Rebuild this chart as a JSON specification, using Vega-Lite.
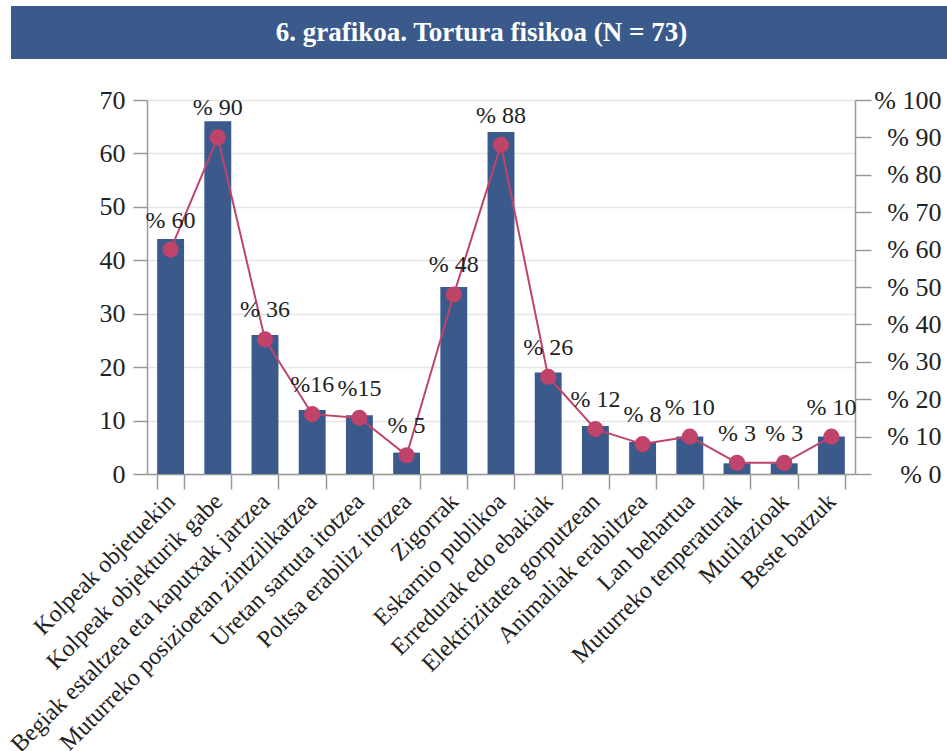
{
  "$schema": "https://vega.github.io/schema/vega-lite/v6.json",
  "padding": {"left": 6, "top": 6, "right": 0, "bottom": 0},
  "background": "white",
  "spacing": 28,
  "config": {"font": "Liberation Serif", "view": {"stroke": null}},
  "vconcat": [
    {
      "width": 941,
      "height": 53,
      "view": {"fill": "#3b5a8c", "stroke": null},
      "data": {"values": [{"t": "6. grafikoa. Tortura fisikoa (N = 73)"}]},
      "mark": {"type": "text", "color": "white", "fontSize": 27, "fontWeight": "bold", "font": "Liberation Serif"},
      "encoding": {"text": {"field": "t"}}
    },
    {
      "width": 844,
      "height": 374,
      "data": {"values": [
        {"cat": "Kolpeak objetuekin", "n": 44, "pct": 60, "lbl": "% 60"},
        {"cat": "Kolpeak objekturik gabe", "n": 66, "pct": 90, "lbl": "% 90"},
        {"cat": "Begiak estaltzea eta kaputxak jartzea", "n": 26, "pct": 36, "lbl": "% 36"},
        {"cat": "Muturreko posizioetan zintzilikatzea", "n": 12, "pct": 16, "lbl": "%16"},
        {"cat": "Uretan sartuta itotzea", "n": 11, "pct": 15, "lbl": "%15"},
        {"cat": "Poltsa erabiliz itotzea", "n": 4, "pct": 5, "lbl": "% 5"},
        {"cat": "Zigorrak", "n": 35, "pct": 48, "lbl": "% 48"},
        {"cat": "Eskarnio publikoa", "n": 64, "pct": 88, "lbl": "% 88"},
        {"cat": "Erredurak edo ebakiak", "n": 19, "pct": 26, "lbl": "% 26"},
        {"cat": "Elektrizitatea gorputzean", "n": 9, "pct": 12, "lbl": "% 12"},
        {"cat": "Animaliak erabiltzea", "n": 6, "pct": 8, "lbl": "% 8"},
        {"cat": "Lan behartua", "n": 7, "pct": 10, "lbl": "% 10"},
        {"cat": "Muturreko tenperaturak", "n": 2, "pct": 3, "lbl": "% 3"},
        {"cat": "Mutilazioak", "n": 2, "pct": 3, "lbl": "% 3"},
        {"cat": "Beste batzuk", "n": 7, "pct": 10, "lbl": "% 10"}
      ]},
      "encoding": {
        "x": {
          "field": "cat", "type": "nominal", "sort": null,
          "scale": {"paddingInner": 0.43, "paddingOuter": 0.215, "range": [136, 844]},
          "axis": {
            "title": null, "labelAngle": -45, "labelFontSize": 24, "labelColor": "#222",
            "labelFont": "Liberation Serif",
            "tickBand": "extent", "tickSize": 15,
            "tickColor": "#999", "tickWidth": 1.5, "domainColor": "#999", "domainWidth": 1.5,
            "labelPadding": 0, "labelOffset": -8, "labelLimit": 600
          }
        }
      },
      "layer": [
        {
          "mark": {"type": "bar", "color": "#3b5a8c"},
          "encoding": {
            "y": {
              "field": "n", "type": "quantitative", "scale": {"domain": [0, 70]},
              "axis": {
                "orient": "left", "offset": -136, "values": [0, 10, 20, 30, 40, 50, 60, 70], "grid": true,
                "gridColor": "#e6e6e6", "gridWidth": 1.5, "domainColor": "#999", "domainWidth": 1.5,
                "tickColor": "#999", "tickWidth": 1.5, "tickSize": 14, "labelFontSize": 26,
                "labelFont": "Liberation Serif",
                "labelColor": "#222", "labelPadding": 8, "title": null
              }
            }
          }
        },
        {
          "encoding": {
            "y": {
              "field": "pct", "type": "quantitative", "scale": {"domain": [0, 100]},
              "axis": {
                "orient": "right", "values": [0, 10, 20, 30, 40, 50, 60, 70, 80, 90, 100],
                "grid": false, "domainColor": "#999", "domainWidth": 1.5, "tickColor": "#999",
                "tickWidth": 1.5, "tickSize": 16, "labelFontSize": 26, "labelColor": "#222",
                "labelFont": "Liberation Serif",
                "labelAlign": "right", "labelPadding": 70,
                "labelExpr": "'% ' + datum.value", "title": null
              }
            }
          },
          "layer": [
            {"mark": {"type": "line", "color": "#c0436a", "strokeWidth": 2}},
            {"mark": {"type": "point", "filled": true, "color": "#c0436a", "size": 260, "opacity": 1}},
            {
              "mark": {"type": "text", "fontSize": 24, "dy": -22, "baseline": "alphabetic", "color": "#222", "font": "Liberation Serif"},
              "encoding": {"text": {"field": "lbl"}}
            }
          ]
        }
      ],
      "resolve": {"scale": {"y": "independent"}}
    }
  ]
}
